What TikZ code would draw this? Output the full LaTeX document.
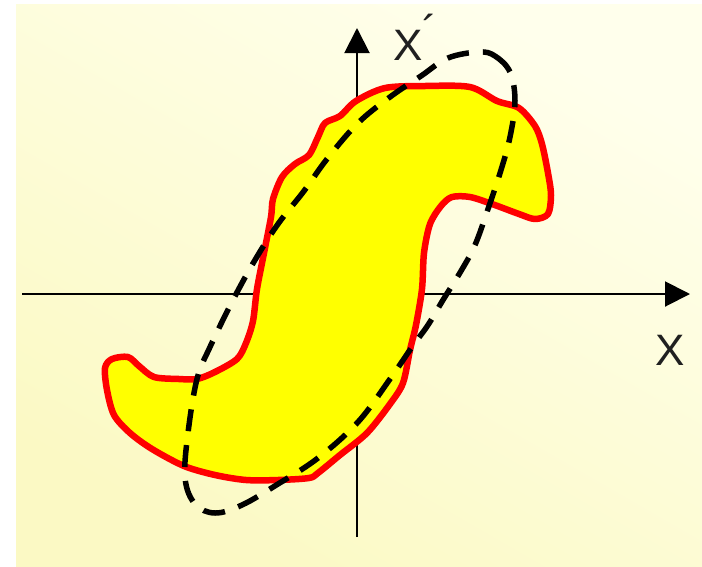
\documentclass[tikz,border=0pt]{standalone}
\usepackage{fontspec}
\setmainfont{Liberation Sans}
\usetikzlibrary{arrows.meta}
\definecolor{bgA}{HTML}{FFFFEC}
\definecolor{bgB}{HTML}{FBF9C4}
\definecolor{shapefill}{HTML}{FFFF00}
\definecolor{shapeline}{HTML}{FF0000}
\definecolor{labelgray}{HTML}{202020}
\tikzset{
  axisline/.style={line width=2pt, draw=black, -{Triangle[length=25pt,width=25pt]}},
  blob/.style={fill=shapefill, draw=shapeline, line width=6.5pt, line join=round},
  dashloop/.style={draw=black, line width=5.5pt, dash pattern=on 22pt off 14pt},
  axlabel/.style={inner sep=0pt, text=labelgray, font=\fontsize{44}{44}\selectfont}
}
\begin{document}
\begin{tikzpicture}[x=1pt,y=-1pt]
\useasboundingbox (0,0) rectangle (702,566);
\shade[top color=bgA, bottom color=bgB, shading angle=-30] (16,4) rectangle (702,566);
% axes
\coordinate (hs) at (22,294);
\coordinate (he) at (690,294);
\coordinate (vs) at (357,537);
\coordinate (ve) at (357,28);
\draw[axisline] (hs) -- (he);
\draw[axisline] (vs) -- (ve);
% filled shape
\draw[blob] plot[smooth cycle, tension=0.5] coordinates {
(356,101) (385,88) (425,86) (470,87) (497,101) (519,108) (535,126) (542,144)
(548,173) (551,195) (548,214) (535,219) (519,214) (492,204) (470,197) (452,197)
(441,206) (430,224) (424,253) (422,289) (416,325) (410,350) (403,383) (390,404)
(367,433) (340,455) (318,473) (309,478) (278,480) (246,480) (215,475) (184,466)
(152,449) (130,433) (114,415) (107,390) (105,368) (112,359) (128,357) (139,366)
(154,377) (179,379) (197,379) (215,372) (237,359) (246,343) (253,321) (257,289)
(264,253) (271,217) (273,199) (282,177) (295,164) (309,155) (318,137) (325,123)
(340,116)};
% dashed loop
\draw[dashloop] plot[smooth cycle, tension=0.6] coordinates {
(479,52) (495,56) (510,72) (515,101) (510,137) (501,170) (488,209) (475,245)
(461,271) (443,300) (428,325) (412,347) (390,379) (358,422) (318,458) (278,484)
(242,505) (215,513) (195,504) (185,478) (188,433) (197,379) (210,347) (233,300)
(255,260) (278,224) (304,191) (327,159) (358,123) (390,97) (421,76) (448,58)};
% labels
\node[axlabel] (xlab) at (670,350) {X};
\node[axlabel, anchor=base west] (xplab) at (393,60) {X\raisebox{0.3em}{´}};
\end{tikzpicture}
\end{document}
